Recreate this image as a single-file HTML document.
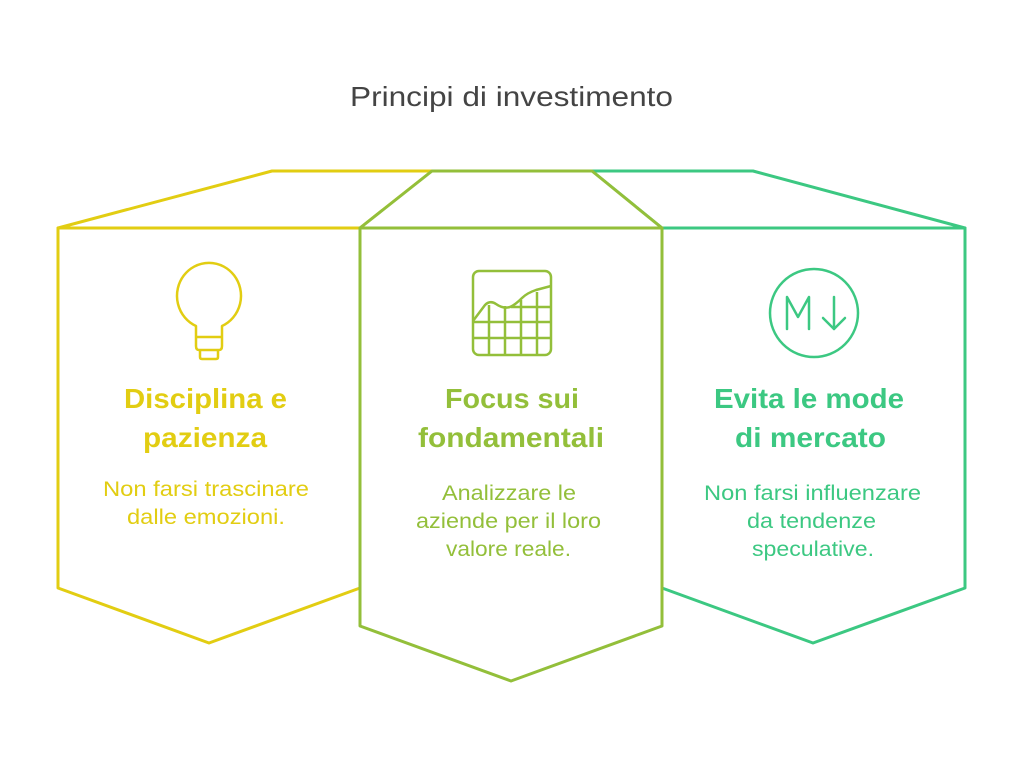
<!DOCTYPE html>
<html><head><meta charset="utf-8"><style>html,body{margin:0;padding:0;background:#fff}svg{display:block}</style></head><body>
<svg width="1024" height="778" viewBox="0 0 1024 778" xmlns="http://www.w3.org/2000/svg" font-family="Liberation Sans, sans-serif">
<rect width="1024" height="778" fill="#fff"/>
<text x="511.5" y="106" text-anchor="middle" font-size="28" fill="#444" textLength="323" lengthAdjust="spacingAndGlyphs">Principi di investimento</text>
<g fill="#fff" stroke-width="3" stroke-linejoin="round">
<path d="M58,228 L272,171 L432,171 L360,228 Z" stroke="#e2cd12"/>
<path d="M58,228 L360,228 L360,588 L209,643 L58,588 Z" stroke="#e2cd12"/>
<path d="M592,171 L753,171 L965,228 L662,228 Z" stroke="#3cc882"/>
<path d="M662,228 L965,228 L965,588 L813,643 L662,588 Z" stroke="#3cc882"/>
<path d="M432,171 L592,171 L662,228 L360,228 Z" stroke="#93bf3a"/>
<path d="M360,228 L662,228 L662,626 L511,681 L360,626 Z" stroke="#93bf3a"/>
</g>
<g fill="none" stroke="#e2cd12" stroke-width="2.5" stroke-linejoin="round">
<path d="M196,326 A32,33 0 1 1 222,326 L222,346 Q222,350 219,350 L199,350 Q196,350 196,346 Z"/>
<line x1="196" y1="337" x2="222" y2="337"/>
<path d="M200,350 L200,357 Q200,359 202,359 L216,359 Q218,359 218,357 L218,350"/>
</g>
<g fill="none" stroke="#93bf3a" stroke-width="2.5" stroke-linejoin="round">
<rect x="473" y="271" width="78" height="84" rx="6"/>
<path d="M473,321 L485,305 Q490,300 496,304 Q503,309 510,307 Q515,305 522,298 Q527,293 536,290 L551,286"/>
<line x1="473" y1="322" x2="551" y2="322"/>
<line x1="473" y1="338" x2="551" y2="338"/>
<line x1="511" y1="307" x2="551" y2="307"/>
<line x1="489" y1="305" x2="489" y2="355"/>
<line x1="505" y1="306" x2="505" y2="355"/>
<line x1="521" y1="300" x2="521" y2="355"/>
<line x1="537" y1="292" x2="537" y2="355"/>
</g>
<g fill="none" stroke="#3cc882" stroke-width="2.5" stroke-linecap="round" stroke-linejoin="round">
<circle cx="814" cy="313" r="44"/>
<path d="M787,329 L787,297 L798,317 L809,297 L809,329"/>
<path d="M834,297 L834,329 M823,318 L834,329 L845,318"/>
</g>
<g font-weight="bold" font-size="28" text-anchor="middle">
<text x="205.5" y="408" fill="#e2cd12" textLength="163" lengthAdjust="spacingAndGlyphs">Disciplina e</text>
<text x="205" y="447" fill="#e2cd12" textLength="124" lengthAdjust="spacingAndGlyphs">pazienza</text>
<text x="512" y="408" fill="#93bf3a" textLength="134" lengthAdjust="spacingAndGlyphs">Focus sui</text>
<text x="511" y="447" fill="#93bf3a" textLength="186" lengthAdjust="spacingAndGlyphs">fondamentali</text>
<text x="809" y="408" fill="#3cc882" textLength="190" lengthAdjust="spacingAndGlyphs">Evita le mode</text>
<text x="810.5" y="447" fill="#3cc882" textLength="151" lengthAdjust="spacingAndGlyphs">di mercato</text>
</g>
<g font-size="21" text-anchor="middle">
<text x="206" y="496" fill="#e2cd12" textLength="206" lengthAdjust="spacingAndGlyphs">Non farsi trascinare</text>
<text x="206" y="524" fill="#e2cd12" textLength="158" lengthAdjust="spacingAndGlyphs">dalle emozioni.</text>
<text x="509" y="500" fill="#93bf3a" textLength="134" lengthAdjust="spacingAndGlyphs">Analizzare le</text>
<text x="508.5" y="528" fill="#93bf3a" textLength="185" lengthAdjust="spacingAndGlyphs">aziende per il loro</text>
<text x="508.5" y="556" fill="#93bf3a" textLength="125" lengthAdjust="spacingAndGlyphs">valore reale.</text>
<text x="812.5" y="500" fill="#3cc882" textLength="217" lengthAdjust="spacingAndGlyphs">Non farsi influenzare</text>
<text x="811.5" y="528" fill="#3cc882" textLength="129" lengthAdjust="spacingAndGlyphs">da tendenze</text>
<text x="813" y="556" fill="#3cc882" textLength="122" lengthAdjust="spacingAndGlyphs">speculative.</text>
</g>
</svg>
</body></html>
